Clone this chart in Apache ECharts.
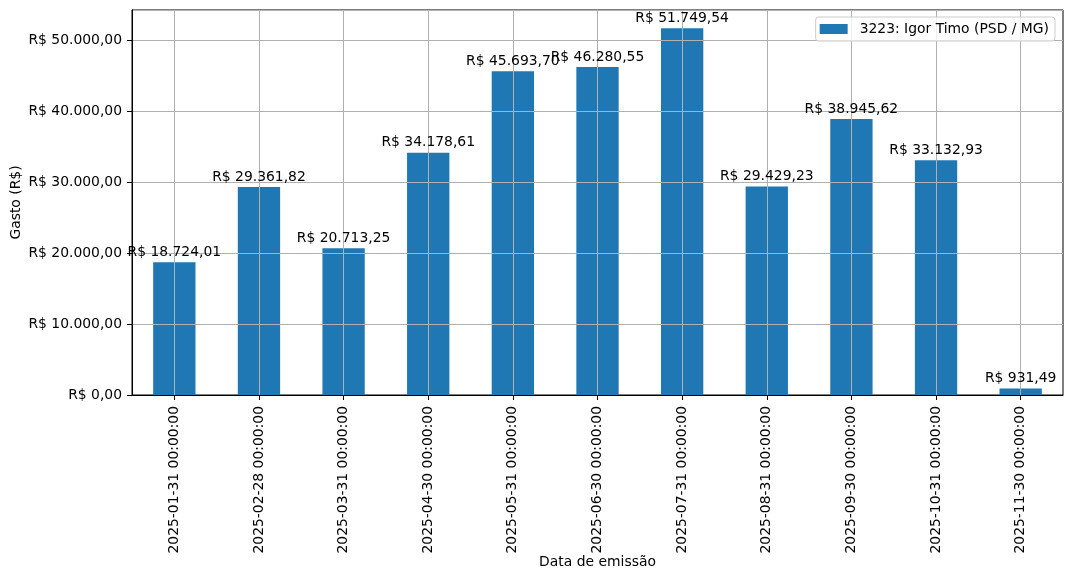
<!DOCTYPE html>
<html>
<head>
<meta charset="utf-8">
<script src="https://cdn.jsdelivr.net/npm/echarts@6/dist/echarts.min.js"></script>
<style>
html,body{margin:0;padding:0;background:#fff;}
#chart{width:1072px;height:580px;}
</style>
</head>
<body>
<div id="chart"></div>
<script>
const categories = [
  "2025-01-31 00:00:00","2025-02-28 00:00:00","2025-03-31 00:00:00","2025-04-30 00:00:00",
  "2025-05-31 00:00:00","2025-06-30 00:00:00","2025-07-31 00:00:00","2025-08-31 00:00:00",
  "2025-09-30 00:00:00","2025-10-31 00:00:00","2025-11-30 00:00:00"
];
const gasto = [18724.01, 29361.82, 20713.25, 34178.61, 45693.70, 46280.55, 51749.54, 29429.23, 38945.62, 33132.93, 931.49];
const seriesName = "3223: Igor Timo (PSD / MG)";
const yTicks = [0, 10000, 20000, 30000, 40000, 50000];

function brl(v) {
  const neg = v < 0;
  v = Math.abs(v);
  let [i, d] = v.toFixed(2).split(".");
  i = i.replace(/\B(?=(\d{3})+(?!\d))/g, ".");
  return (neg ? "-" : "") + "R$ " + i + "," + d;
}

const FONT = "DejaVu Sans";
const FS = 13.9;
const yMax = Math.max(...gasto) * 1.05;

const chart = echarts.init(document.getElementById("chart"), null, {renderer: "canvas"});
chart.setOption({
  animation: false,
  backgroundColor: "#ffffff",
  textStyle: {fontFamily: FONT, color: "#000"},
  grid: {
    left: 132, right: 9, top: 10, bottom: 185,
    outerBoundsMode: "none", containLabel: false,
    show: true, borderColor: "#000", borderWidth: 1, backgroundColor: "transparent"
  },
  legend: {
    data: [{name: seriesName, icon: "rect"}],
    right: 17, top: 17,
    itemWidth: 28, itemHeight: 10,
    padding: [5, 6, 5, 4],
    backgroundColor: "rgba(255,255,255,0.8)",
    borderColor: "#cccccc", borderWidth: 1, borderRadius: 3,
    textStyle: {fontFamily: FONT, fontSize: FS, color: "#000", padding: [0, 0, 0, 7]},
    z: 10
  },
  xAxis: {
    type: "category",
    data: categories,
    z: 3,
    name: "Data de emissão",
    nameLocation: "middle",
    nameGap: 160,
    nameMoveOverlap: false,
    nameTextStyle: {fontFamily: FONT, fontSize: FS, color: "#000"},
    axisLine: {show: true, lineStyle: {color: "#000", width: 1}},
    axisTick: {show: true, alignWithLabel: true, interval: 0, length: 5, lineStyle: {color: "#000"}},
    axisLabel: {rotate: 90, interval: 0, margin: 11, fontFamily: FONT, fontSize: FS, color: "#000"},
    splitLine: {show: false}
  },
  yAxis: {
    type: "value",
    min: 0, max: yMax, interval: 10000,
    z: 3,
    name: "Gasto (R$)",
    nameLocation: "middle",
    nameGap: 109,
    nameMoveOverlap: false,
    nameTextStyle: {fontFamily: FONT, fontSize: FS, color: "#000"},
    axisLine: {show: true, lineStyle: {color: "#000", width: 1}},
    axisTick: {show: true, length: 5, lineStyle: {color: "#000"}},
    axisLabel: {
      margin: 10, fontFamily: FONT, fontSize: FS, color: "#000",
      showMaxLabel: false,
      formatter: function (v) { return yTicks.includes(v) ? brl(v) : ""; }
    },
    splitLine: {show: true, lineStyle: {color: "#b0b0b0", width: 1}}
  },
  series: [
    {
      name: seriesName,
      type: "bar",
      data: gasto,
      barWidth: "50%",
      z: 1,
      itemStyle: {color: "#1f77b4"},
      markLine: {
        silent: true,
        symbol: ["none", "none"],
        label: {show: false},
        lineStyle: {type: "solid", color: "#b0b0b0", width: 1},
        data: categories.map(c => ({xAxis: c}))
      }
    },
    {
      name: "labels",
      type: "bar",
      data: gasto,
      barWidth: "50%",
      barGap: "-100%",
      z: 6,
      silent: true,
      itemStyle: {color: "rgba(0,0,0,0)"},
      label: {
        show: true, position: "top", distance: 3,
        fontFamily: FONT, fontSize: FS, color: "#000",
        formatter: function (p) { return brl(p.value); }
      }
    }
  ]
});
</script>
</body>
</html>
